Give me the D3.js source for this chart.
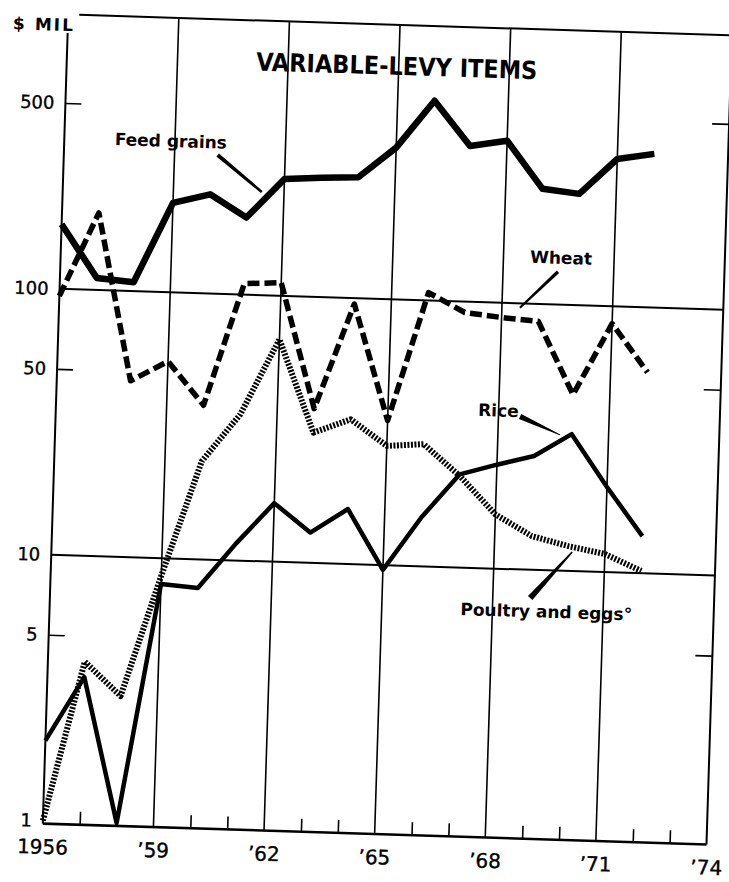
<!DOCTYPE html>
<html>
<head>
<meta charset="utf-8">
<script src="https://cdnjs.cloudflare.com/ajax/libs/d3/7.8.5/d3.min.js"></script>
<style>
  body { margin: 0; background: #fff; }
  svg { display: block; }
  text { font-family: "DejaVu Sans", sans-serif; fill: #000; }
  .axis path { display: none; }
  .axis line { stroke: #000; stroke-width: 1.6; }
  .axis text { stroke: #000; stroke-width: 0.35; }
  .label { font-weight: bold; font-size: 17px; }
</style>
</head>
<body>
<div id="chart"></div>
<script>
'use strict';

// values, $ million
const years = [1956, 1957, 1958, 1959, 1960, 1961, 1962, 1963, 1964, 1965, 1966, 1967, 1968, 1969, 1970, 1971, 1972];
const feedGrains = [175, 111, 108, 217, 236, 195, 275, 281, 285, 372, 564, 385, 407, 271, 262, 358, 378];
const wheat = [94, 195, 46, 55, 38, 110, 112, 38, 95, 35, 107, 91, 88, 86, 46, 86, 57];
const rice = [2.0, 3.5, 1.0, 8.0, 7.8, 11.6, 16.6, 13.0, 16.1, 9.6, 15.3, 22.4, 24.6, 26.8, 32.7, 20.9, 13.8];
const poultry = [1.0, 4.0, 3.0, 8.6, 23.4, 35.4, 68.6, 30.9, 35.0, 28.1, 28.8, 22.1, 16.0, 13.4, 12.4, 11.7, 10.2];

const yTicks = [1, 5, 10, 50, 100, 500];
const yInnerTicks = [5, 50, 500];
const yGrid = [10, 100];
const xLabelYears = [1956, 1959, 1962, 1965, 1968, 1971, 1974];
const xLabels = ['1956', '\u201959', '\u201962', '\u201965', '\u201968', '\u201971', '\u201974'];
const xGrid = [1959, 1962, 1965, 1968, 1971];
const xMinor = [1957, 1958, 1960, 1961, 1963, 1964, 1966, 1967, 1969, 1970, 1972, 1973];

const width = 729, height = 882;
const pad = { left: 55, right: 719, top: 24.5, bottom: 834 };

let svg = d3.select('#chart').append('svg')
  .attr('width', width)
  .attr('height', height);

svg.append('rect').attr('width', width).attr('height', height).attr('fill', '#fff');

// the printed page is scanned a little crooked
let graph = svg.append('g').attr('transform', 'rotate(1.8, 380, 440)');

let x = d3.scaleLinear().domain([1956, 1974]).range([pad.left, pad.right]);
let y = d3.scaleLog().domain([1, 1000]).range([831, 33]);

// frame
const frame = [
  [pad.left + 11, pad.top, pad.right, pad.top],
  [pad.left, 43, pad.left, pad.bottom],
  [pad.right, pad.top, pad.right, pad.bottom],
  [pad.left, pad.bottom, pad.right, pad.bottom]
];
graph.selectAll('line.frame').data(frame).enter()
  .append('line')
  .attr('class', 'frame')
  .attr('x1', d => d[0]).attr('y1', d => d[1])
  .attr('x2', d => d[2]).attr('y2', d => d[3])
  .attr('stroke', '#000')
  .attr('stroke-width', (d, i) => i == 3 ? 2.6 : 2);

// grid
graph.selectAll('line.vgrid').data(xGrid).enter()
  .append('line')
  .attr('class', 'vgrid')
  .attr('x1', d => x(d)).attr('x2', d => x(d))
  .attr('y1', pad.top).attr('y2', pad.bottom)
  .attr('stroke', '#000').attr('stroke-width', 1.6);

graph.selectAll('line.hgrid').data(yGrid).enter()
  .append('line')
  .attr('class', 'hgrid')
  .attr('x1', pad.left).attr('x2', pad.right)
  .attr('y1', d => y(d)).attr('y2', d => y(d))
  .attr('stroke', '#000').attr('stroke-width', 2);

// axes
graph.append('g')
  .attr('class', 'axis')
  .attr('transform', 'translate(' + pad.left + ',0)')
  .call(d3.axisLeft(y).tickValues(yTicks).tickSize(0).tickPadding(11).tickFormat(d3.format('d')))
  .selectAll('text').style('font-size', '18px');

graph.append('g')
  .attr('class', 'axis')
  .attr('transform', 'translate(' + pad.left + ',0)')
  .call(d3.axisRight(y).tickValues(yInnerTicks).tickSize(16).tickFormat(''));

graph.append('g')
  .attr('class', 'axis')
  .attr('transform', 'translate(' + pad.right + ',0)')
  .call(d3.axisLeft(y).tickValues(yInnerTicks).tickSize(17).tickFormat(''));

graph.append('g')
  .attr('class', 'axis')
  .attr('transform', 'translate(0,' + pad.bottom + ')')
  .call(d3.axisTop(x).tickValues(xMinor).tickSize(13).tickFormat(''));

graph.append('g')
  .attr('class', 'axis')
  .attr('transform', 'translate(0,' + pad.bottom + ')')
  .call(d3.axisBottom(x).tickValues(xLabelYears).tickSize(0).tickPadding(16)
    .tickFormat((d, i) => xLabels[i]))
  .selectAll('text').style('font-size', '20px');

// series
let line = d3.line()
  .x((d, i) => x(years[i]))
  .y(d => y(d));

const series = [
  { values: feedGrains, width: 6.5, dash: null },
  { values: wheat, width: 5.5, dash: '12,5' },
  { values: rice, width: 4.5, dash: null },
  { values: poultry, width: 6, dash: '2,1.5' }
];

graph.selectAll('path.series').data(series).enter()
  .append('path')
  .attr('class', 'series')
  .attr('d', d => line(d.values))
  .attr('fill', 'none')
  .attr('stroke', '#000')
  .attr('stroke-width', d => d.width)
  .attr('stroke-dasharray', d => d.dash)
  .attr('stroke-linejoin', 'round');

// labels and tapered leaders: [x1, y1, width1, x2, y2, width2]
const labels = [
  { text: 'Feed grains', x: 105.5, y: 153.6, lead: [208.8, 160.2, 4, 254, 195.8, 2.5] },
  { text: 'Wheat', x: 524.3, y: 258.2, lead: [552.6, 266.3, 3.5, 515.7, 303.5, 2] },
  { text: 'Rice', x: 477.2, y: 412.8, lead: [519.3, 412.2, 5.5, 559.8, 429.2, 1] },
  { text: 'Poultry and eggs\u00b0', x: 465.7, y: 612.4, lead: [575.6, 545.8, 1.5, 535.1, 593.2, 6] }
];

function wedge(l) {
  let dx = l[3] - l[0], dy = l[4] - l[1];
  let len = Math.sqrt(dx * dx + dy * dy);
  let nx = -dy / len, ny = dx / len;
  let p = [
    [l[0] + nx * l[2] / 2, l[1] + ny * l[2] / 2],
    [l[3] + nx * l[5] / 2, l[4] + ny * l[5] / 2],
    [l[3] - nx * l[5] / 2, l[4] - ny * l[5] / 2],
    [l[0] - nx * l[2] / 2, l[1] - ny * l[2] / 2]
  ];
  return 'M' + p.join('L') + 'Z';
}

graph.selectAll('text.label').data(labels).enter()
  .append('text')
  .attr('class', 'label')
  .attr('x', d => d.x)
  .attr('y', d => d.y)
  .text(d => d.text);

graph.selectAll('path.lead').data(labels).enter()
  .append('path')
  .attr('class', 'lead')
  .attr('d', d => wedge(d.lead))
  .attr('fill', '#000');

graph.append('text')
  .attr('x', 385).attr('y', 74.5)
  .attr('text-anchor', 'middle')
  .style('font-family', '"DejaVu Sans Condensed", "DejaVu Sans", sans-serif')
  .style('font-weight', 'bold')
  .style('font-size', '25px')
  .text('VARIABLE-LEVY ITEMS');

// unit label sits where the frame corner would be
let unit = graph.append('text')
  .attr('y', 41)
  .style('font-weight', 'bold')
  .style('font-size', '17px');
unit.append('tspan').attr('x', 0).text('$');
unit.append('tspan').attr('x', 22).style('letter-spacing', '2px').text('MIL');
</script>
</body>
</html>
